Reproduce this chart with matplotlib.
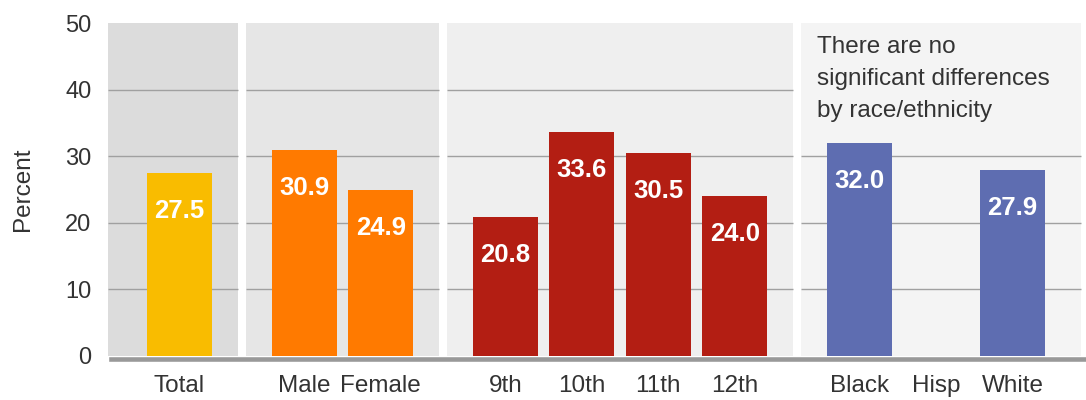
import numpy as np
import matplotlib.pyplot as plt
from matplotlib.patches import Rectangle

plt.rcParams['font.family'] = ['Liberation Sans', 'DejaVu Sans']

# ---- data ----
groups = [["Total"], ["Male", "Female"], ["9th", "10th", "11th", "12th"], ["Black", "Hisp", "White"]]
values = [[27.5], [30.9, 24.9], [20.8, 33.6, 30.5, 24.0], [32.0, np.nan, 27.9]]
bar_colors = ["#F9BC00", "#FF7A00", "#B31E13", "#5E6DB1"]
panel_colors = ["#DCDCDC", "#E6E6E6", "#EFEFEF", "#F4F4F4"]
note = "There are no\nsignificant differences\nby race/ethnicity"
yticks = [0, 10, 20, 30, 40, 50]

text_col = "#333333"
grid_col = "#A0A0A0"
gap = 0.63
width = 0.85

# positions with a gap between groups
positions = []
k = 0
for gi, g in enumerate(groups):
    positions.append([k + gap * gi + j for j in range(len(g))])
    k += len(g)

fig = plt.figure(figsize=(10.86, 4.0), dpi=100)
ax = fig.add_axes([0.0994, 0.11, 0.9006, 0.8325])
xmin, xmax = -0.935, 11.85
ax.set_xlim(xmin, xmax)
ax.set_ylim(0, 50)

# panel backgrounds and per-panel gridlines
edges = [xmin]
for gi in range(len(groups) - 1):
    edges.append((positions[gi][-1] + positions[gi + 1][0]) / 2)
edges.append(positions[-1][-1] + 0.9)
sep = 0.05
for gi in range(len(groups)):
    left = edges[gi] + (sep if gi > 0 else 0)
    right = edges[gi + 1] - (sep if gi < len(groups) - 1 else 0)
    ax.add_patch(Rectangle((left, 0), right - left, 50, color=panel_colors[gi], zorder=0, lw=0))
    for yv in yticks[1:-1]:
        if gi == len(groups) - 1 and yv == 40:
            continue
        ax.plot([left, right], [yv, yv], color=grid_col, lw=1.0, zorder=1, solid_capstyle='butt')

# bars and value labels
for gi, g in enumerate(groups):
    for p, v in zip(positions[gi], values[gi]):
        if np.isnan(v):
            continue
        ax.bar(p, v, width=width, color=bar_colors[gi], zorder=2)
        ax.text(p, v - 5.7, f"{v:.1f}", ha='center', va='center', color='white',
                fontsize=18.5, fontweight='bold', zorder=3)

# baseline
ax.axhline(-0.4, xmin=0.003, color="#999999", lw=3.3, clip_on=False, zorder=4)

# note in race panel
ax.text(positions[3][0] - 0.55, 48.0, note, ha='left', va='top', fontsize=17.5,
        color=text_col, linespacing=1.58, zorder=3)

flat_pos = [p for ps in positions for p in ps]
flat_lab = [c for g in groups for c in g]
ax.set_xticks(flat_pos)
ax.set_xticklabels(flat_lab, fontsize=17.5, color=text_col)
ax.set_yticks(yticks)
ax.set_yticklabels([str(t) for t in yticks], fontsize=17, color=text_col)
ax.tick_params(axis='both', length=0)
ax.tick_params(axis='y', pad=12)
ax.tick_params(axis='x', pad=14)
ax.set_ylabel("Percent", fontsize=17.5, color=text_col, labelpad=22)
for s in ax.spines.values():
    s.set_visible(False)

fig.savefig("out.png", dpi=100)
